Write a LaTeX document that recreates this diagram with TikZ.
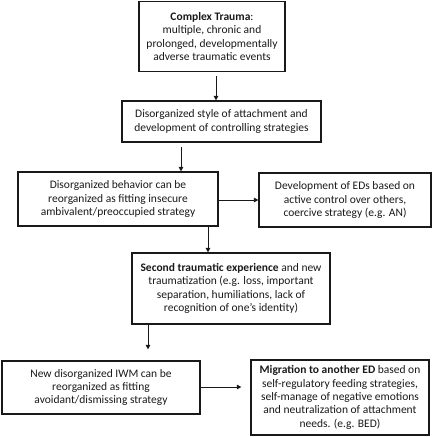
\documentclass[tikz,border=0pt]{standalone}
\usepackage{fontspec}
\setmainfont{Carlito}
\usetikzlibrary{arrows.meta,calc}
\begin{document}
\begin{tikzpicture}[x=1pt,y=-1pt,
  box/.style={draw=black!90,line width=1.2pt,align=center,inner sep=0pt,
    font=\fontsize{11.5}{13.4}\selectfont,text=black!90},
  arr/.style={draw=black!90,line width=1pt,-{Triangle[length=4.5pt,width=4.5pt]}}]
\useasboundingbox (0,0) rectangle (432,437);
\node[box,minimum width=146pt,minimum height=70pt] (b1) at (212,36.5)
  {\textbf{Complex Trauma}:\\multiple, chronic and\\prolonged, developmentally\\adverse traumatic events};
\node[box,minimum width=199pt,minimum height=41pt] (b2) at (221.5,121.5)
  {Disorganized style of attachment and\\development of controlling strategies};
\node[box,minimum width=200pt,minimum height=54pt] (b3) at (118,199)
  {Disorganized behavior can be\\reorganized as fitting insecure\\ambivalent/preoccupied strategy};
\node[box,minimum width=172pt,minimum height=54pt] (b4) at (345,200)
  {Development of EDs based on\\active control over others,\\coercive strategy (e.g. AN)};
\node[box,minimum width=198pt,minimum height=71pt] (b5) at (231,288.5)
  {\textbf{Second traumatic experience} and new\\traumatization (e.g. loss, important\\separation, humiliations, lack of\\recognition of one's identity)};
\node[box,minimum width=198pt,minimum height=53pt] (b6) at (101,387.5)
  {New disorganized IWM can be\\reorganized as fitting\\avoidant/dismissing strategy};
\node[box,minimum width=178pt,minimum height=75pt] (b7) at (340,397.5)
  {\textbf{Migration to another ED} based on\\self-regulatory feeding strategies,\\self-manage of negative emotions\\and neutralization of attachment\\needs. (e.g. BED)};
\draw[arr] ($(b1.south)+(4,4)$) -- ($(b2.north)+(-5.5,0)$);
\draw[arr] ($(b2.south)+(-40.5,4)$) -- ($(b3.north)+(63,0)$);
\draw[arr] ($(b3.east)+(0,1)$) -- ($(b4.west)+(0,0)$);
\draw[arr] ($(b3.south)+(90,0)$) -- ($(b5.north)+(-23,0)$);
\draw[arr] ($(b5.south)+(-83,0)$) -- ($(b6.north)+(47,-11)$);
\draw[arr] ($(b6.east)+(0,-0.5)$) -- ($(b7.west)+(-9,-10.5)$);
\end{tikzpicture}
\end{document}
